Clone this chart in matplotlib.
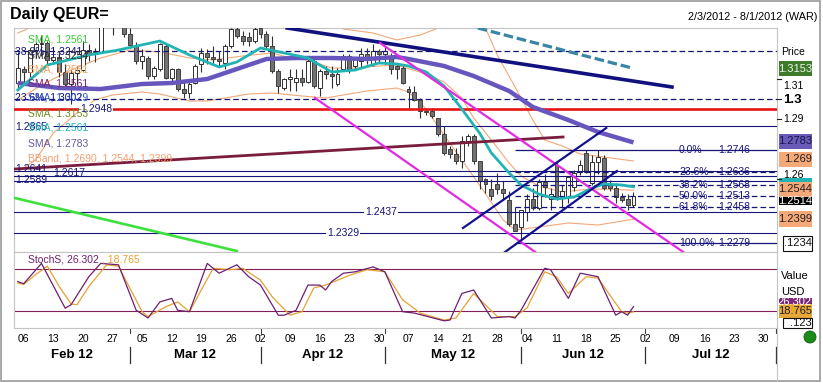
import matplotlib
matplotlib.use("Agg")
import matplotlib.pyplot as plt
import matplotlib.transforms as mtransforms
from matplotlib.lines import Line2D
from matplotlib.patches import Rectangle, Circle
import numpy as np

W, H = 823, 383
plt.rcParams['font.family'] = ['Liberation Sans', 'DejaVu Sans']
plt.rcParams['font.size'] = 7.5

# ---- daily EUR/USD candles, trading-day index 0 = Fri 3 Feb 2012 ----
opens = [
    1.3080, 1.3150, 1.3135, 1.3245, 1.3275, 1.3280, 1.3195, 1.3210, 1.3135, 1.3075,
    1.3130, 1.3145, 1.3245, 1.3225, 1.3235, 1.3385, 1.3450, 1.3415, 1.3460, 1.3325,
    1.3270, 1.3190, 1.3205, 1.3115, 1.3150, 1.3265, 1.3105, 1.3150, 1.3050, 1.3030,
    1.3080, 1.3175, 1.3230, 1.3210, 1.3200, 1.3180, 1.3265, 1.3350, 1.3315, 1.3310,
    1.3290, 1.3355, 1.3325, 1.3265, 1.3140, 1.3055, 1.3100, 1.3085, 1.3105, 1.3085,
    1.3190, 1.3055, 1.3140, 1.3125, 1.3075, 1.3150, 1.3215, 1.3165, 1.3190, 1.3225,
    1.3175, 1.3240, 1.3225, 1.3215, 1.3165, 1.3155, 1.3050, 1.3035, 1.2995, 1.2940,
    1.2940, 1.2905, 1.2825, 1.2750, 1.2725, 1.2690, 1.2790, 1.2815, 1.2690, 1.2600,
    1.2550, 1.2575, 1.2550, 1.2495, 1.2375, 1.2360, 1.2435, 1.2500, 1.2455, 1.2585,
    1.2500, 1.2670, 1.2510, 1.2510, 1.2560, 1.2635, 1.2730, 1.2580, 1.2685, 1.2705,
    1.2570, 1.2555, 1.2510, 1.2500, 1.2470]
highs = [
    1.3235, 1.3165, 1.3255, 1.3285, 1.3320, 1.3290, 1.3260, 1.3225, 1.3175, 1.3145,
    1.3165, 1.3290, 1.3275, 1.3255, 1.3390, 1.3465, 1.3455, 1.3485, 1.3485, 1.3355,
    1.3285, 1.3250, 1.3215, 1.3165, 1.3280, 1.3275, 1.3155, 1.3155, 1.3090, 1.3090,
    1.3175, 1.3255, 1.3250, 1.3265, 1.3240, 1.3275, 1.3355, 1.3370, 1.3340, 1.3335,
    1.3385, 1.3380, 1.3340, 1.3315, 1.3150, 1.3105, 1.3150, 1.3150, 1.3150, 1.3200,
    1.3215, 1.3150, 1.3165, 1.3165, 1.3155, 1.3225, 1.3225, 1.3205, 1.3255, 1.3255,
    1.3275, 1.3250, 1.3265, 1.3230, 1.3175, 1.3175, 1.3065, 1.3065, 1.3005, 1.2945,
    1.2955, 1.2905, 1.2865, 1.2765, 1.2755, 1.2815, 1.2825, 1.2825, 1.2690, 1.2605,
    1.2600, 1.2630, 1.2590, 1.2540, 1.2460, 1.2445, 1.2525, 1.2555, 1.2600, 1.2625,
    1.2555, 1.2690, 1.2570, 1.2615, 1.2645, 1.2695, 1.2746, 1.2720, 1.2746, 1.2720,
    1.2595, 1.2580, 1.2530, 1.2525, 1.2535]
lows = [
    1.3045, 1.3085, 1.3110, 1.3205, 1.3215, 1.3170, 1.3185, 1.3110, 1.3055, 1.2975,
    1.3070, 1.3140, 1.3190, 1.3185, 1.3230, 1.3375, 1.3320, 1.3395, 1.3310, 1.3255,
    1.3175, 1.3150, 1.3100, 1.3100, 1.3140, 1.3100, 1.3090, 1.3040, 1.3005, 1.3005,
    1.3075, 1.3135, 1.3175, 1.3180, 1.3165, 1.3150, 1.3255, 1.3305, 1.3270, 1.3265,
    1.3280, 1.3305, 1.3250, 1.3130, 1.3030, 1.3045, 1.3040, 1.3040, 1.3065, 1.3080,
    1.3055, 1.3015, 1.3100, 1.3055, 1.3065, 1.3140, 1.3130, 1.3150, 1.3155, 1.3175,
    1.3165, 1.3180, 1.3175, 1.3125, 1.3100, 1.3075, 1.2955, 1.2990, 1.2905, 1.2920,
    1.2905, 1.2815, 1.2720, 1.2705, 1.2675, 1.2655, 1.2765, 1.2675, 1.2550, 1.2530,
    1.2495, 1.2525, 1.2495, 1.2365, 1.2340, 1.2280, 1.2390, 1.2445, 1.2445, 1.2510,
    1.2445, 1.2495, 1.2455, 1.2480, 1.2540, 1.2620, 1.2630, 1.2570, 1.2625, 1.2545,
    1.2540, 1.2480, 1.2485, 1.2445, 1.2460]
closes = [
    1.3155, 1.3135, 1.3245, 1.3275, 1.3280, 1.3195, 1.3210, 1.3135, 1.3075, 1.3130,
    1.3145, 1.3245, 1.3225, 1.3235, 1.3385, 1.3450, 1.3415, 1.3460, 1.3325, 1.3270,
    1.3190, 1.3215, 1.3115, 1.3155, 1.3275, 1.3105, 1.3150, 1.3050, 1.3030, 1.3075,
    1.3165, 1.3230, 1.3210, 1.3200, 1.3190, 1.3265, 1.3350, 1.3315, 1.3290, 1.3290,
    1.3350, 1.3325, 1.3265, 1.3140, 1.3065, 1.3100, 1.3110, 1.3105, 1.3085, 1.3190,
    1.3065, 1.3140, 1.3125, 1.3115, 1.3125, 1.3215, 1.3150, 1.3200, 1.3225, 1.3210,
    1.3240, 1.3225, 1.3240, 1.3150, 1.3150, 1.3080, 1.3035, 1.2995, 1.2940, 1.2935,
    1.2915, 1.2825, 1.2730, 1.2725, 1.2690, 1.2790, 1.2815, 1.2690, 1.2590, 1.2575,
    1.2515, 1.2550, 1.2530, 1.2375, 1.2340, 1.2445, 1.2500, 1.2455, 1.2585, 1.2560,
    1.2525, 1.2510, 1.2540, 1.2610, 1.2630, 1.2670, 1.2635, 1.2685, 1.2710, 1.2555,
    1.2555, 1.2510, 1.2495, 1.2470, 1.2514]

# ---- indicator lines (day index, price) ----
sma_teal_x = [0, 5, 12, 17, 24, 29, 34, 37, 41, 45, 49, 53, 57, 61, 64, 66, 69, 72, 75, 78, 80, 83, 85, 88, 91, 94, 97, 99, 102, 104]
sma_teal_y = [1.3045, 1.3170, 1.3220, 1.3245, 1.3290, 1.3220, 1.3160, 1.3185, 1.3255, 1.3230, 1.3205, 1.3135, 1.3145,
              1.3180, 1.3175, 1.3165, 1.3135, 1.3065, 1.2950, 1.2830, 1.2730, 1.2630, 1.2570, 1.2525, 1.2500, 1.2510,
              1.2555, 1.2575, 1.2570, 1.2561]
sma_purple_x = [0, 7, 14, 21, 26, 32, 37, 42, 47, 53, 59, 64, 66, 72, 77, 83, 87, 93, 98, 104]
sma_purple_y = [1.3080, 1.3055, 1.3050, 1.3075, 1.3080, 1.3100, 1.3150, 1.3200, 1.3205, 1.3205, 1.3200, 1.3210, 1.3200,
                1.3165, 1.3115, 1.3040, 1.2960, 1.2895, 1.2835, 1.2783]
bb_up_x = [0, 2, 5, 11, 19, 27, 34, 41, 48, 53, 55, 60, 64, 68, 71, 74, 77, 79, 81, 84, 87, 89, 92, 95, 99, 104]
bb_up_y = [1.3330, 1.3355, 1.3405, 1.3470, 1.3470, 1.3420, 1.3385, 1.3395, 1.3375, 1.3370, 1.3350, 1.3330, 1.3295,
           1.3320, 1.3355, 1.3405, 1.3405, 1.3355, 1.3220, 1.3060, 1.2895, 1.2795, 1.2765, 1.2725, 1.2710, 1.2690]
bb_mid_x = [0, 4, 9, 14, 19, 24, 29, 33, 38, 43, 46, 49, 53, 57, 61, 64, 69, 72, 75, 77, 80, 83, 85, 88, 92, 95, 98, 104]
bb_mid_y = [1.2995, 1.3070, 1.3145, 1.3205, 1.3245, 1.3235, 1.3205, 1.3195, 1.3215, 1.3230, 1.3205, 1.3195, 1.3155,
            1.3155, 1.3165, 1.3170, 1.3125, 1.3085, 1.3005, 1.2905, 1.2795, 1.2680, 1.2615, 1.2565, 1.2535, 1.2545,
            1.2550, 1.2544]
bb_low_x = [0, 3, 6, 10, 13, 16, 21, 24, 29, 32, 35, 39, 43, 48, 52, 56, 59, 64, 66, 69, 72, 75, 78, 82, 84, 88, 93, 98, 104]
bb_low_y = [1.2635, 1.2695, 1.2830, 1.2930, 1.2995, 1.3020, 1.3035, 1.3025, 1.2990, 1.2990, 1.3005, 1.3025, 1.3030,
            1.3015, 1.3005, 1.3025, 1.3040, 1.3055, 1.3035, 1.2950, 1.2820, 1.2695, 1.2570, 1.2395, 1.2345, 1.2360,
            1.2380, 1.2370, 1.2399]
sma_long_x = [77.7, 104]            # dashed long average, enters from the top
sma_long_y = [1.3355, 1.3153]

# hand-drawn trend lines: (x0, x1), (y0, y1)
trend_navy = ([45.5, 110.5], [1.3355, 1.3060])
trend_green = ([-0.5, 37.0], [1.2505, 1.2240])
trend_maroon = ([-0.5, 92.1], [1.2650, 1.2810])
magenta_upper = ([61.2, 112.4], [1.3280, 1.2235])
magenta_lower = ([50.2, 87.4], [1.3005, 1.2235])
channel_upper = ([75.2, 99.4], [1.2355, 1.2855])
channel_lower = ([82.3, 101.2], [1.2235, 1.2640])

# horizontal levels
red_level = 1.2948
navy_levels = [1.2641, 1.2617, 1.2589, 1.2437, 1.2329]
level_1_2865 = 1.2865
old_fib_levels = [1.3241, 1.3002]
fib_pcts = ["0.0%", "23.6%", "38.2%", "50.0%", "61.8%", "100.0%"]
fib_levels = [1.2746, 1.2636, 1.2568, 1.2513, 1.2458, 1.2279]
fib_start = 84

# slow stochastic
stoch_k_x = [0, 1, 4, 8, 9, 12, 14, 17, 20, 22, 24, 26, 27, 29, 32, 34, 37, 39, 41, 44, 45, 47, 49, 51, 52, 53, 55, 57,
             60, 62, 65, 67, 72, 73, 75, 77, 80, 83, 84, 85, 89, 90, 93, 95, 98, 101, 102, 103, 104]
stoch_k_y = [62, 59, 88, 24, 29, 69, 88, 86, 21, 10, 33, 38, 21, 19, 88, 74, 86, 69, 57, 14, 14, 21, 57, 57, 50, 62, 74, 76,
             83, 76, 19, 17, 6, 7, 45, 50, 10, 12, 10, 21, 81, 79, 38, 74, 69, 14, 19, 14, 26.302]
stoch_d_x = [0, 1, 3, 5, 7, 9, 10, 12, 15, 17, 21, 22, 25, 27, 29, 33, 36, 38, 41, 43, 46, 48, 50, 52, 56, 59, 62, 65,
             68, 72, 74, 77, 81, 84, 86, 89, 91, 93, 96, 98, 102, 103, 104]
stoch_d_y = [60, 58, 72, 84, 55, 30, 29, 55, 86, 84, 19, 12, 26, 33, 19, 81, 79, 81, 64, 40, 14, 19, 53, 57, 71, 79, 76, 36,
             17, 7, 10, 45, 12, 12, 24, 76, 69, 45, 69, 67, 19, 17, 18.765]

# date axis
week_idx = [1, 6, 11, 16, 21, 26, 31, 36, 41, 46, 51, 56, 61, 66, 71, 76, 81, 86, 91, 96, 101, 106, 111, 116, 121, 126]
week_lbl = ["06", "13", "20", "27", "05", "12", "19", "26", "02", "09", "16", "23", "30",
            "07", "14", "21", "28", "04", "11", "18", "25", "02", "09", "16", "23", "30"]
month_start = [19, 41, 62, 85, 106, 128]
month_lbl = ["Feb 12", "Mar 12", "Apr 12", "May 12", "Jun 12", "Jul 12"]

NAVY = '#14147a'


def fx(px):
    return px / W


def fy(py):
    return 1 - py / H


def ix(px):
    # screen column -> day index, used only to place labels
    return (px - 17.8) / 5.92


fig = plt.figure(figsize=(W / 100, H / 100), dpi=100)
fig.patch.set_facecolor('white')
ax = fig.add_axes([fx(14), fy(252), fx(777) - fx(14), fy(28) - fy(252)])
ax2 = fig.add_axes([fx(14), fy(328), fx(777) - fx(14), fy(252) - fy(328)])
for a in (ax, ax2):
    a.set_xlim(ix(14), ix(777))
    a.set_xticks([])
    a.set_yticks([])
    for s in a.spines.values():
        s.set_color('#c4c4c4')
        s.set_linewidth(0.8)
ax.set_ylim(1.2235, 1.3355)
ax2.set_ylim(-4.3, 104.3)

# levels
ax.axhline(red_level, color='#e81414', lw=1.9, zorder=5)
for lv in navy_levels:
    ax.axhline(lv, color=NAVY, lw=0.8, zorder=5)
ax.hlines(level_1_2865, ix(53), ix(777), color=NAVY, lw=0.8, zorder=5)
for lv in old_fib_levels:
    ax.axhline(lv, color=NAVY, lw=0.9, dashes=(4.5, 2.5), zorder=5)
for pct, lv in zip(fib_pcts, fib_levels):
    solid = pct in ("0.0%", "100.0%")
    ax.hlines(lv, fib_start, ix(777), color=NAVY, lw=0.9,
              linestyles='solid' if solid else (0, (4.5, 2.5)), zorder=5)
    ax.text(ix(679), lv, pct, color=NAVY, va='center', ha='left', zorder=4)
    ax.text(ix(718), lv, f"{lv:.4f}", color=NAVY, va='center', ha='left', zorder=4)
for lv, px in [(red_level, 96), (1.2437, 381), (1.2329, 343)]:
    ax.text(ix(px), lv, f"{lv:.4f}", color=NAVY, va='center', ha='center', zorder=7,
            bbox=dict(fc='white', ec='none', pad=1.0))

# bollinger bands (thin, behind candles)
for xs, ys in [(bb_up_x, bb_up_y), (bb_mid_x, bb_mid_y), (bb_low_x, bb_low_y)]:
    ax.plot(xs, ys, color='#f2a878', lw=0.8, zorder=2)

# candles
idx = np.arange(len(closes))
o, h, l, c = map(np.array, (opens, highs, lows, closes))
up = c >= o
ax.vlines(idx, l, h, color='#303030', lw=0.8, zorder=3)
body_lo = np.minimum(o, c)
body_h = np.maximum(np.abs(c - o), 0.00012)
ax.bar(idx[up], body_h[up], bottom=body_lo[up], width=0.66, color='white',
       edgecolor='#303030', lw=0.7, zorder=4)
ax.bar(idx[~up], body_h[~up], bottom=body_lo[~up], width=0.66, color='#727272',
       edgecolor='#404040', lw=0.7, zorder=4)

# averages and drawn lines
ax.plot(sma_purple_x, sma_purple_y, color='#6656be', lw=3.2, zorder=6, solid_capstyle='butt')
ax.plot(sma_teal_x, sma_teal_y, color='#22b4b4', lw=2.0, zorder=6)
ax.plot(sma_long_x, sma_long_y, color='#3a84a6', lw=2.3, dashes=(3, 1.2), zorder=6)
ax.plot(*trend_navy, color='#10107e', lw=2.6, zorder=6)
ax.plot(*trend_green, color='#3ee03e', lw=1.9, zorder=6)
ax.plot(*trend_maroon, color='#7a1c3c', lw=2.0, zorder=6)
for seg in (magenta_upper, magenta_lower):
    ax.plot(*seg, color='#e22ae2', lw=1.6, zorder=6)
for seg in (channel_upper, channel_lower):
    ax.plot(*seg, color='#12128e', lw=1.6, zorder=6)

# stochastic panel
ax2.axhline(80, color='#802058', lw=0.8)
ax2.axhline(20, color='#802058', lw=0.8)
ax2.plot(stoch_d_x, stoch_d_y, color='#e6a232', lw=0.9)
ax2.plot(stoch_k_x, stoch_k_y, color='#6e1f6e', lw=0.9)
fig.text(fx(28), fy(260), "StochS, 26.302", color='#6e1f6e', va='center')
fig.text(fx(102), fy(260), ", 18.765", color='#e6a232', va='center')

# left-hand study legends
legends = [
    ("SMA, 1.2561", '#33cc33', 28, 40),
    ("38.2%, 1.3241", NAVY, 15, 51),
    ("SMA, 1.3254", '#303030', 28, 55),
    ("SMA, 1.2561", '#f4a460', 28, 69),
    ("SMA, 1.2561", '#7a2070', 28, 83),
    ("23.6%, 1.3002", NAVY, 15, 98),
    ("SMA, 1.3029", '#3050d0', 28, 98),
    ("SMA, 1.3153", '#6b8e23', 28, 114),
    ("1.2865", NAVY, 15, 127),
    ("SMA, 1.2561", '#22b4b4', 28, 128),
    ("SMA, 1.2783", '#6a5a9a', 28, 143),
    ("BBand, 1.2690, 1.2544, 1.2399", '#f2a070', 28, 158),
    ("1.2641", NAVY, 15, 169),
    ("1.2617", NAVY, 53, 173),
    ("1.2589", NAVY, 15, 180),
]
for s, col, x, y in legends:
    fig.text(fx(x), fy(y), s, color=col, va='center', zorder=10)

# date axis
trans = mtransforms.blended_transform_factory(ax2.transData, fig.transFigure)
for i, lab in zip(week_idx, week_lbl):
    ax2.text(i, fy(339), lab, transform=trans, ha='center', va='center', clip_on=False)
bounds = [ix(14)] + month_start
for k, lab in enumerate(month_lbl):
    ax2.text((bounds[k] + bounds[k + 1]) / 2, fy(355), lab, transform=trans, ha='center',
             va='center', fontsize=9.5, fontweight='bold', clip_on=False)
for b in month_start:
    ax2.add_line(Line2D([b, b], [fy(328), fy(333)], transform=trans, color='#404040', lw=0.8, clip_on=False))
    ax2.add_line(Line2D([b, b], [fy(347), fy(363)], transform=trans, color='#303030', lw=0.9, clip_on=False))

# right-hand price scale
trans_r = mtransforms.blended_transform_factory(fig.transFigure, ax.transData)
for p in [1.31, 1.30, 1.29, 1.26]:
    fig.add_artist(Line2D([fx(777), fx(781)], [p, p], transform=trans_r, color='#202020', lw=0.8))
fig.text(fx(781), fy(52), "Price", va='center')
fig.text(fx(783), fy(86), "1.31", va='center')
fig.text(fx(783), fy(100), "1.3", va='center', fontsize=9.5, fontweight='bold')
fig.text(fx(783), fy(119), "1.29", va='center')
fig.text(fx(783), fy(175), "1.26", va='center')

right_boxes = [
    ("1.3153", 61, 76, '#3d7a2a', '#eef4e8', None),
    ("1.2783", 134, 149, '#6a5ab8', '#15154a', None),
    ("1.269", 152, 167, '#f5a878', '#202020', None),
    ("", 178, 184, '#22b4b4', '#202020', None),
    ("1.2514", 196, 205, '#000000', '#ffffff', None),
    ("1.2544", 182, 197, '#f5a878', '#202020', None),
    ("1.2399", 211, 227, '#f5a878', '#202020', None),
    (".1234", 236, 251, '#ffffff', '#101010', '#101010'),
    ("26.302", 298, 306, '#7a2a78', '#ffffff', None),
    ("18.765", 304, 318, '#e8a838', '#202020', None),
    (".123", 318, 328, '#ffffff', '#101010', '#101010'),
]
for s, y0, y1, fc, tc, ec in right_boxes:
    x0 = 779 if ec is None else 783
    fig.add_artist(Rectangle((fx(x0), fy(y1)), (812 - x0) / W, (y1 - y0) / H, transform=fig.transFigure,
                             facecolor=fc, edgecolor=ec if ec else 'none', lw=0.8))
    if s:
        fig.text(fx(812), fy((y0 + y1) / 2), s, color=tc, ha='right', va='center', fontsize=8)
fig.text(fx(781), fy(276), "Value", va='center', fontsize=8)
fig.text(fx(781), fy(292), "USD", va='center', fontsize=8)
fig.add_artist(Circle((810, H - 337), 6, transform=mtransforms.IdentityTransform(),
                      facecolor='#1a8a1a', edgecolor='#0c5c0c', lw=0.6))

# frame, title
fig.add_artist(Line2D([fx(777), fx(777)], [fy(328), fy(381)], color='#c4c4c4', lw=0.8))
fig.add_artist(Rectangle((fx(1), fy(381)), (820 - 1) / W, (381 - 1) / H, transform=fig.transFigure,
                         fill=False, edgecolor='#9a9a9a', lw=1.2))
fig.text(fx(10), fy(15), "Daily QEUR=", fontsize=11.5, fontweight='bold', va='center')
fig.text(fx(817), fy(17), "2/3/2012 - 8/1/2012 (WAR)", fontsize=7.8, ha='right', va='center')

fig.savefig("out.png", dpi=100)
